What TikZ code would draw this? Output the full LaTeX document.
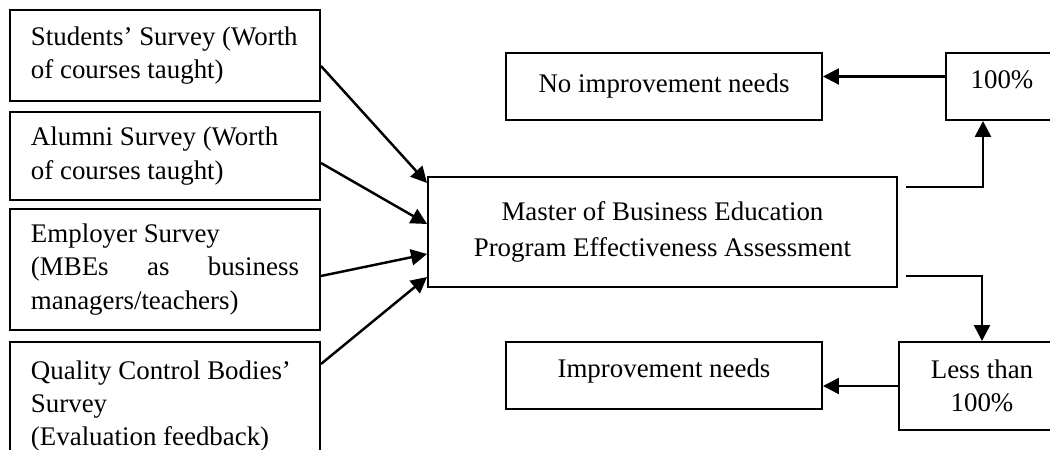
\documentclass[tikz,border=0pt]{standalone}
\usepackage{fontspec}
\setmainfont{Liberation Serif}
\usetikzlibrary{arrows.meta}

\begin{document}
\begin{tikzpicture}[x=0.2mm, y=-0.2mm, >={Triangle[length=3.2mm, width=3.2mm]},
  font=\fontsize{15.3}{19}\selectfont,
  box/.style={draw=black, line width=1.1pt, inner sep=0pt},
  srcbox/.style={box, minimum width=62mm, text width=53.6mm, align=flush left},
  outbox/.style={box, minimum height=13.4mm, align=center},
  flow/.style={->, line width=1.4pt},
]
\useasboundingbox (0,0) rectangle (1050,450);

% ---------------------------------------------------------------- survey inputs
\node[srcbox, minimum height=18.2mm] (s1) at (165,55.5) {Students’ Survey (Worth\\of courses taught)};
\node[srcbox, minimum height=17.6mm] (s2) at (165,156) {Alumni Survey (Worth\\of courses taught)};
\node[srcbox, minimum height=24.2mm] (s3) at (165,269.5) {Employer Survey\\(MBEs\hfill as\hfill business\\managers/teachers)};
\node[srcbox, minimum height=25.6mm] (s4) at (165,406) {Quality Control Bodies’\\Survey\\(Evaluation feedback)};

% ---------------------------------------------------------------- assessment
\node[box, minimum width=93.8mm, minimum height=22mm, align=center,
  font=\fontsize{15.3}{20.5}\selectfont] (m) at (662.5,232)
  {Master of Business Education\\Program Effectiveness Assessment};
\draw[flow] ([yshift=-2.1mm]s1.east) -- ([yshift=9.8mm]m.west);
\draw[flow] ([yshift=-1.4mm]s2.east) -- ([yshift=1.6mm]m.west);
\draw[flow] ([yshift=-1.3mm]s3.east) -- ([yshift=-4.4mm]m.west);
\draw[flow] ([yshift=8.4mm]s4.east) -- ([yshift=-9mm]m.west);

% ---------------------------------------------------------------- outcomes
\node[outbox, minimum width=63.2mm] (n1) at (664,86.5) {No improvement needs};
\node[outbox, minimum width=22.4mm, text depth=2.8mm] (p1) at (1002,86.5) {100\%};
\node[outbox, minimum width=63.2mm, text depth=2.8mm] (n2) at (664,375.5) {Improvement needs};
\node[box, minimum width=33.2mm, minimum height=17.6mm, align=center] (q1) at (982,386) {Less than\\100\%};

\draw[flow] ([shift={(1.6mm,9mm)}]m.east) -| ([xshift=-3.8mm]p1.south);
\draw[flow] ([yshift=2mm]p1.west) -- ([yshift=2mm]n1.east);
\draw[flow] ([shift={(1.6mm,-8.8mm)}]m.east) -| (q1.north);
\draw[flow] (q1.west) -- (q1.west -| n2.east);
\end{tikzpicture}
\end{document}
